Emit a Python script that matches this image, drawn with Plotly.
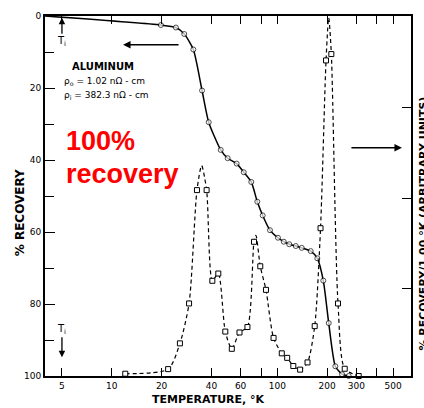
import plotly.graph_objects as go
import numpy as np

# ---- data ----
# Solid curve: % recovery (left axis, 0 at top) vs temperature (K)
start_T = [3.95]
start_pct = [0.0]
rec_T = [19.8, 24.4, 27.4, 31.1, 35.1, 38.5, 45.5, 50.1, 56.8, 62.7, 69.6, 75.7, 81.6,
         90.3, 100.9, 109.4, 118.0, 129.3, 140.4, 159.1, 174.4, 189.6, 204.4, 224.1,
         245.9, 269.9]
rec_pct = [2.5, 3.2, 5.0, 9.3, 20.7, 29.5, 37.2, 39.5, 41.0, 43.4, 46.1, 51.6, 55.4,
           59.5, 61.6, 62.7, 63.4, 63.9, 64.4, 65.3, 67.3, 73.5, 85.3, 97.3,
           99.5, 100.0]

# Dashed curve: d(% recovery)/dT, arbitrary units (right axis)
der_T = [12.06, 21.9, 25.8, 29.3, 32.7, 37.4, 40.5, 44.0, 48.5, 53.1, 59.1, 66.0, 72.3,
         78.9, 85.4, 94.9, 106.4, 114.7, 124.9, 137.3, 152.2, 168.2, 182.4, 196.9,
         212.0, 232.6, 255.4, 310.2]
der_val = [0.065, 0.116, 0.40, 0.84, 2.09, 2.09, 1.09, 1.17, 0.53, 0.34, 0.52, 0.58, 1.52,
           1.25, 0.99, 0.46, 0.29, 0.24, 0.15, 0.11, 0.19, 0.59, 1.67, 3.52,
           3.59, 0.84, 0.12, 0.04]
# unmarked maxima of the hand-drawn dashed curve
peak_T = [34.9, 74.3, 204.4]
peak_val = [2.36, 1.59, 3.99]

x_ticks = [5, 10, 20, 40, 60, 80, 100, 200, 300, 400, 500]
x_tick_text = ["5", "10", "20", "40", "60", "", "100", "200", "300", "", "500"]
y_ticks = [0, 20, 40, 60, 80, 100]

FONT = "DejaVu Sans"

fig = go.Figure()

line_T = start_T + rec_T
line_pct = start_pct + rec_pct
msize = [0] * len(start_T) + [5] * len(rec_T)
fig.add_trace(go.Scatter(
    x=line_T, y=line_pct, mode="lines+markers",
    line=dict(color="black", width=1.5, shape="spline", smoothing=0.6),
    marker=dict(symbol="circle", size=msize, color="white",
                line=dict(color="black", width=1)),
    cliponaxis=False, showlegend=False))

pairs = sorted(zip(der_T + peak_T, der_val + peak_val))
fig.add_trace(go.Scatter(
    x=[p[0] for p in pairs], y=[p[1] for p in pairs], mode="lines",
    line=dict(color="black", width=1.2, dash="4px,3px", shape="spline", smoothing=0.7),
    yaxis="y2", cliponaxis=False, showlegend=False))
fig.add_trace(go.Scatter(
    x=der_T, y=der_val, mode="markers",
    marker=dict(symbol="square", size=5, color="white",
                line=dict(color="black", width=1)),
    yaxis="y2", cliponaxis=False, showlegend=False))

fig.update_layout(
    width=424, height=408,
    margin=dict(l=45, r=13, t=11, b=32),
    paper_bgcolor="white", plot_bgcolor="white",
    font=dict(family=FONT, color="black", size=9),
    xaxis=dict(type="log", range=[np.log10(3.95), np.log10(642)],
               tickvals=x_ticks, ticktext=x_tick_text,
               ticks="inside", ticklen=8, tickwidth=1.3, tickcolor="black",
               showline=True, linecolor="black", linewidth=1.8, mirror="ticks",
               showgrid=False, zeroline=False,
               tickfont=dict(family=FONT, size=9, color="black")),
    yaxis=dict(range=[100, 0], tickvals=y_ticks,
               ticks="inside", ticklen=10, tickwidth=1.3, tickcolor="black",
               minor=dict(ticks="inside", dtick=10, ticklen=9, tickwidth=1.3,
                          tickcolor="black", showgrid=False),
               showline=True, linecolor="black", linewidth=1.8,
               showgrid=False, zeroline=False,
               tickfont=dict(family=FONT, size=9, color="black")),
    yaxis2=dict(overlaying="y", side="right", range=[0.04, 4.01],
                tickvals=[1, 2, 3], showticklabels=False,
                ticks="inside", ticklen=9, tickwidth=1.3, tickcolor="black",
                showline=True, linecolor="black", linewidth=1.8,
                showgrid=False, zeroline=False),
)

def px2paper(px, py):
    return (px - 45) / 366, (376 - py) / 365

BLACK = dict(color="black")
ann = []
# axis titles
x0, y0 = px2paper(20, 210)
ann.append(dict(xref="paper", yref="paper", x=x0, y=y0, xanchor="center", yanchor="middle",
                text="<b>% RECOVERY</b>", textangle=-90, showarrow=False,
                font=dict(size=12, **BLACK)))
x0, y0 = px2paper(208, 400)
ann.append(dict(xref="paper", yref="paper", x=x0, y=y0, xanchor="center", yanchor="middle",
                text="<b>TEMPERATURE, °K</b>", showarrow=False,
                font=dict(size=11, **BLACK)))
x0, y0 = px2paper(415, 222)
ann.append(dict(xref="paper", yref="paper", x=x0, y=y0, xanchor="left", yanchor="middle",
                text="<b>% RECOVERY/1.00 °K (ARBITRARY UNITS)</b>",
                textangle=-90, showarrow=False, font=dict(size=11, **BLACK)))
# sample info
ann.append(dict(x=np.log10(8.8), y=14.0, text="<b>ALUMINUM</b>", showarrow=False,
                font=dict(size=10, **BLACK)))
ann.append(dict(x=np.log10(5), y=18.1, xanchor="left", yanchor="middle",
                text="ρ<sub>o</sub> = 1.02 nΩ - cm", showarrow=False,
                font=dict(size=9, **BLACK)))
ann.append(dict(x=np.log10(5), y=22.2, xanchor="left", yanchor="middle",
                text="ρ<sub>i</sub> = 382.3 nΩ - cm", showarrow=False,
                font=dict(size=9, **BLACK)))
# T_i arrows
ann.append(dict(x=np.log10(5), y=0.5, ax=0, ay=24, text="T<sub>i</sub>",
                showarrow=True, arrowhead=2, arrowsize=1, arrowwidth=1.3,
                arrowcolor="black", font=dict(size=10, **BLACK)))
ann.append(dict(x=np.log10(5), y=94.8, ax=0, ay=-28, text="T<sub>i</sub>",
                showarrow=True, arrowhead=2, arrowsize=1, arrowwidth=1.3,
                arrowcolor="black", font=dict(size=10, **BLACK)))
# horizontal arrows indicating axes
ann.append(dict(x=np.log10(11.7), y=8.0, ax=57, ay=0, text="",
                showarrow=True, arrowhead=2, arrowsize=1, arrowwidth=1.5,
                arrowcolor="black"))
ann.append(dict(x=np.log10(566), y=36.6, ax=-52, ay=0, text="",
                showarrow=True, arrowhead=2, arrowsize=1, arrowwidth=1.5,
                arrowcolor="black"))
# red note
x0, y0 = px2paper(64, 138)
ann.append(dict(xref="paper", yref="paper", x=x0, y=y0, xanchor="left", yanchor="middle",
                text="<b>100%</b>", showarrow=False,
                font=dict(family="Liberation Sans", size=27, color="red")))
x0, y0 = px2paper(64, 171)
ann.append(dict(xref="paper", yref="paper", x=x0, y=y0, xanchor="left", yanchor="middle",
                text="<b>recovery</b>", showarrow=False,
                font=dict(family="Liberation Sans", size=27, color="red")))
fig.update_layout(annotations=ann)

fig.write_html("out.html")
